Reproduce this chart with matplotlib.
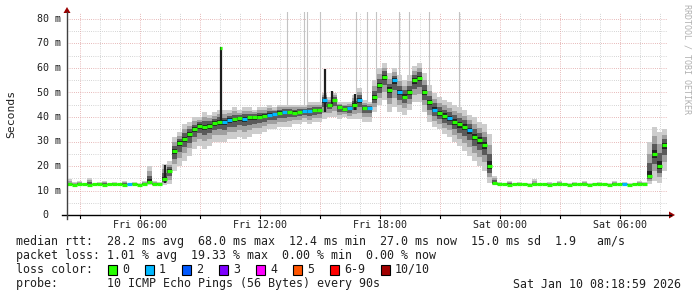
import numpy as np
import matplotlib
matplotlib.use("Agg")
import matplotlib.pyplot as plt
from matplotlib.lines import Line2D
from matplotlib.patches import Polygon, Rectangle

# ---------------- data ----------------
t_start = 2.35          # hours after Fri 00:00
bin_h = 0.25            # 15-minute bins

median_ms = [12.5, 12.4, 12.5, 12.5, 12.4, 12.5, 12.5, 12.4, 12.5, 12.5, 12.5, 12.4, 12.5, 12.5, 12.4, 12.5,
             13.6, 12.5, 12.5, 14.5, 18, 26, 29.5, 31, 33, 35, 36.5, 36, 36.5, 37.5,
             38, 37.8, 38.8, 39, 39.5, 39.3, 39.8, 40, 40.2, 40.5,
             41, 41.3, 41.8, 42, 42.2, 41.8, 42.2, 42.5, 42.3, 42.8,
             43, 47, 45, 47, 44, 43.3, 43.5, 45, 47, 43.8,
             43.6, 48, 53, 56.5, 51, 55, 50, 48.3, 50, 55,
             56, 50, 46, 43, 41.5, 40.5, 39.6, 38, 37, 36,
             34.5, 32, 30.6, 28.6, 20, 13,
             12.5, 12.5, 12.4, 12.5, 12.5, 12.5, 12.4, 12.5, 12.5, 12.5,
             12.4, 12.5, 12.5, 12.5, 12.4, 12.5, 12.5, 12.5, 12.4, 12.5,
             12.5, 12.5, 12.4, 12.5, 12.5, 12.5, 12.4, 12.5, 12.5, 12.5,
             16, 25, 20, 28.5]

smoke_lo = [12.2] * 16 + [12.3, 12.3, 12.3, 12.3, 12.5, 18, 20, 22, 24, 27, 28, 27, 28, 30,
            30, 30, 31, 31, 32, 31, 32, 33, 33, 34,
            35, 35, 36, 36, 36, 37, 37, 38, 37, 38,
            38, 39, 40, 40, 39, 40, 39, 39, 39, 38,
            38, 42, 45, 47, 42, 44, 42, 41, 43, 46,
            46, 42, 38, 36, 35, 33, 32, 30, 28, 26,
            24, 22, 20, 18, 13, 12.3] + [12.2] * 30 + [12.5, 14, 13, 18]

smoke_hi = [14.5, 13.5, 14, 13, 15, 13, 13.5, 14, 13, 13.5, 13, 14, 13, 13.5, 13, 14,
            20, 14, 13.5, 21, 22, 32, 34, 37, 38, 40, 40, 42, 41, 42,
            43, 43, 43, 44, 43, 44, 44, 43, 44, 44,
            45, 44, 45, 45, 45, 45, 45, 45, 46, 46,
            46, 50, 48, 50, 46, 46, 46, 49, 52, 47,
            46, 55, 60, 62, 58, 60, 57, 55, 57, 61,
            62, 58, 53, 50, 48, 47, 46, 45, 44, 43,
            41, 40, 38, 37, 33, 16,
            13.5, 13, 14, 13, 13.5, 13, 13, 14.5, 13, 13,
            13.5, 13, 14, 13, 13, 13.5, 13, 14, 13, 13,
            13.5, 13, 13, 14, 13, 13.5, 13, 13, 14, 13.5,
            30, 36, 34, 35]

loss_bins = [12, 31, 32, 35, 40, 41, 43, 47, 48, 51, 56, 58, 60, 65, 66, 73, 76, 80, 111]

# tall thin gray outliers (hours) and dark single-column spikes
outlier_hours = [13.37, 14.22, 14.37, 15.0, 16.82, 17.33, 17.79, 18.97, 19.43, 20.47, 21.93]
spike_hours = [7.25, 10.05, 15.25, 15.6, 16.75]
spike_low = [13, 38, 42, 44, 43]
spike_high = [20.5, 68.5, 59.5, 50.5, 49.5]
spike_med = [20, 68, 51, 47, 45]

xtick_hours = [6, 12, 18, 24, 30]
xtick_labels = ["Fri 06:00", "Fri 12:00", "Fri 18:00", "Sat 00:00", "Sat 06:00"]
ytick_values = [0, 10, 20, 30, 40, 50, 60, 70, 80]
ytick_labels = ["0  ", "10 m", "20 m", "30 m", "40 m", "50 m", "60 m", "70 m", "80 m"]

loss_labels = ["0", "1", "2", "3", "4", "5", "6-9", "10/10"]
loss_colors = ["#26ff00", "#00b8ff", "#0059ff", "#7e00ff", "#ff00ff", "#ff5500", "#ff0000", "#a10000"]

legend_lines = [
    "median rtt:  28.2 ms avg  68.0 ms max  12.4 ms min  27.0 ms now  15.0 ms sd  1.9   am/s",
    "packet loss: 1.01 % avg  19.33 % max  0.00 % min  0.00 % now",
    "loss color:",
    "probe:       10 ICMP Echo Pings (56 Bytes) every 90s",
]
stamp = "Sat Jan 10 08:18:59 2026"

# ---------------- figure ----------------
W, H = 697, 297
fig = plt.figure(figsize=(W / 100, H / 100), dpi=100)
fig.patch.set_facecolor("white")

def fx(x):
    return x / W

def fy(y):
    return 1 - y / H

x_left, x_right, y_bot = 67, 667, 215
px_per_ms = 2.45
ymax = 83
ax = fig.add_axes([fx(x_left), fy(y_bot), (x_right - x_left) / W, ymax * px_per_ms / H])
ax.set_xlim(t_start, t_start + bin_h * len(median_ms))
ax.set_ylim(0, ymax)
for s in ax.spines.values():
    s.set_visible(False)
ax.set_xticks([])
ax.set_yticks([])
ax.patch.set_alpha(0)

dot = (0, (0.72, 1.44))
# grid
for v in range(5, 80, 10):
    ax.axhline(v, color="#c8c8c8", lw=0.72, ls=dot, zorder=0)
for v in range(10, 81, 10):
    ax.axhline(v, color="#e0a4a4", lw=0.72, ls=dot, zorder=0)
for h in range(3, 33):
    if h % 3:
        ax.axvline(h, color="#c8c8c8", lw=0.72, ls=dot, zorder=0)
    else:
        ax.axvline(h, color="#e0a4a4", lw=0.72, ls=dot, zorder=0)

med = np.array(median_ms, float)
lo = np.array(smoke_lo, float)
hi = np.array(smoke_hi, float)
n = len(med)
edges = t_start + bin_h * np.arange(n + 1)
left = edges[:-1]
right = edges[1:]

def band(frac, color, z):
    b = med - frac * (med - lo)
    t = med + frac * (hi - med)
    ax.fill_between(edges, np.append(b, b[-1]), np.append(t, t[-1]), step="post",
                    color=color, lw=0, zorder=z)

# outliers
for h in outlier_hours:
    i = int((h - t_start) / bin_h)
    ax.vlines(h, med[i], 90, color="#c4c4c4", lw=0.8, zorder=1)

band(1.0, "#cdcdcd", 2)
band(0.65, "#a0a0a0", 3)
band(0.38, "#5a5a5a", 4)
band(0.15, "#222222", 5)

for h, a, b in zip(spike_hours, spike_low, spike_high):
    ax.vlines(h, a, b, color="#1e1e1e", lw=1.6, zorder=5)

loss = np.zeros(n, int)
loss[loss_bins] = 1
cols = [loss_colors[k] for k in loss]
ax.hlines(med, left, right, colors=cols, lw=2.3, zorder=6)
ax.hlines(spike_med[1], spike_hours[1] - 0.05, spike_hours[1] + 0.05, colors=loss_colors[0], lw=2.3, zorder=6)

# tick labels
mono = "DejaVu Sans Mono"
for v, lab in zip(ytick_values, ytick_labels):
    y = y_bot - v * px_per_ms
    fig.text(fx(61), fy(y), lab, ha="right", va="center", family=mono, fontsize=7.2, color="#202020")
for h, lab in zip(xtick_hours, xtick_labels):
    x = 140 + (h - 6) * 20
    fig.text(fx(x), fy(225), lab, ha="center", va="center", family=mono, fontsize=7.2, color="#202020")

# axis lines and arrows
fig.add_artist(Line2D([fx(62), fx(671)], [fy(y_bot), fy(y_bot)], color="black", lw=1.0))
fig.add_artist(Line2D([fx(x_left), fx(x_left)], [fy(219), fy(12)], color="#404040", lw=1.0))
for hh in range(3, 33, 3):
    xx = 140 + (hh - 6) * 20
    fig.add_artist(Line2D([fx(xx), fx(xx)], [fy(y_bot), fy(y_bot + 3)], color="black", lw=0.8))
fig.add_artist(Polygon([[fx(669), fy(211.5)], [fx(675), fy(215)], [fx(669), fy(218.5)]],
                       closed=True, color="#9b0000", lw=0))
fig.add_artist(Polygon([[fx(63.5), fy(13)], [fx(67), fy(7)], [fx(70.5), fy(13)]],
                       closed=True, color="#9b0000", lw=0))

# titles
fig.text(fx(11), fy(114), "Seconds", rotation=90, ha="center", va="center",
         family=mono, fontsize=8.2, color="#202020")
fig.text(fx(687), fy(4), "RRDTOOL / TOBI OETIKER", rotation=-90, ha="center", va="top",
         family=mono, fontsize=6.0, color="#b0b0b0")

# legend
ys = [241, 255.5, 269.5, 284]
for y, line in zip(ys, legend_lines):
    fig.text(fx(16), fy(y), line, ha="left", va="center", family=mono, fontsize=8.4, color="#202020")
fig.text(fx(681), fy(ys[3]), stamp, ha="right", va="center", family=mono, fontsize=8.4, color="#202020")

cw = 7.0
x = 108
for lab, c in zip(loss_labels, loss_colors):
    fig.add_artist(Rectangle((fx(x), fy(ys[2] + 5)), 9 / W, 10 / H, facecolor=c,
                             edgecolor="black", lw=0.8))
    fig.text(fx(x + 14), fy(ys[2]), lab, ha="left", va="center", family=mono, fontsize=8.4, color="#202020")
    x = x + 14 + len(lab) * cw + 16

fig.savefig("out.png", dpi=100)
